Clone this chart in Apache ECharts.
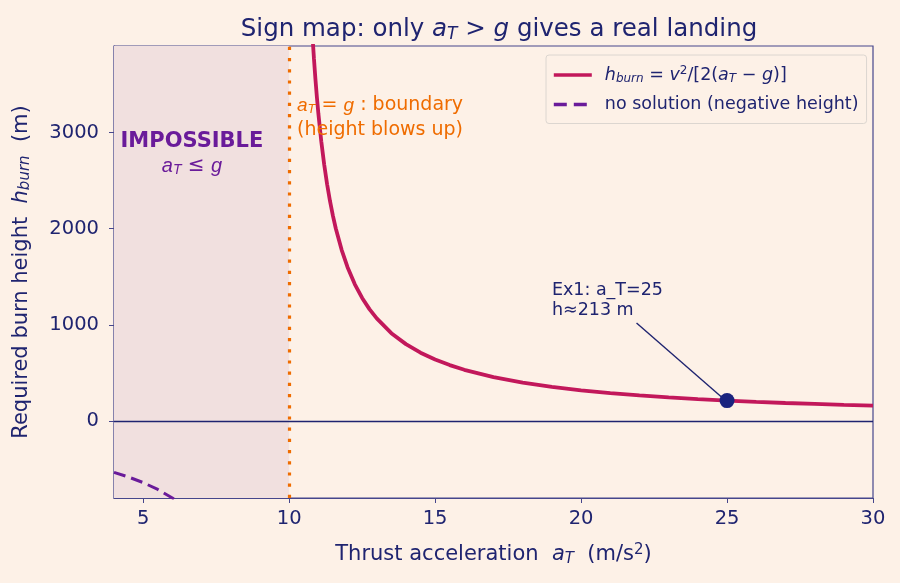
<!DOCTYPE html>
<html lang="en">
<head>
    <meta charset="UTF-8">
    <title>Sign map</title>
    <style>
        html, body { margin: 0; padding: 0; background: #fdf1e7; }
        #chart { width: 900px; height: 583px; }
    </style>
</head>
<body>
    <div id="chart"></div>
    <script src="https://cdn.jsdelivr.net/npm/echarts@6/dist/echarts.min.js"></script>
    <script>
        // values
        const burnX = [10.8, 10.85, 10.9, 10.95, 11, 11.1, 11.2, 11.3, 11.4, 11.5, 11.6, 11.8, 12, 12.25, 12.5, 12.75, 13, 13.5, 14, 14.5, 15, 15.5, 16, 17, 18, 19, 20, 21, 22, 23, 24, 25, 26, 27, 28, 29, 30]
        const burnH = [4000, 3765, 3556, 3368, 3200, 2909, 2667, 2462, 2286, 2133, 2000, 1778, 1600, 1422, 1280, 1164, 1067, 914, 800, 711, 640, 582, 533, 457, 400, 356, 320, 291, 267, 246, 229, 213, 200, 188, 178, 168, 160]
        const negX = [4, 4.5, 5, 5.5, 6, 6.25]
        const negH = [-533, -582, -640, -711, -800, -853]
        const example = [25, 213]
        const boundary = 10
        const xTicks = [5, 10, 15, 20, 25, 30]
        const yTicks = [0, 1000, 2000, 3000]

        const navy = '#1f2470'
        const spine = '#46468c'
        const crimson = '#c2185b'
        const purple = '#6a1b9a'
        const orange = '#ef6c00'
        const font = 'DejaVu Sans'

        const zip = (xs, ys) => xs.map((x, i) => [x, ys[i]])

        const chart = echarts.init(document.getElementById('chart'))

        const option = {
            backgroundColor: '#fdf1e7',
            textStyle: { fontFamily: font },
            title: {
                text: 'Sign map: only {i|a}{s|T} > {i|g} gives a real landing',
                left: 494,
                textAlign: 'center',
                top: 11,
                textStyle: {
                    color: navy, fontSize: 24.5, fontWeight: 'normal', fontFamily: font,
                    rich: {
                        i: { fontSize: 24.5, fontStyle: 'italic', color: navy, fontFamily: font },
                        s: { fontSize: 17, fontStyle: 'italic', color: navy, fontFamily: font, padding: [10, 0, 0, 0] }
                    }
                }
            },
            grid: {
                left: 114, right: 27, top: 46, bottom: 85,
                show: true, borderColor: spine, borderWidth: 1.2, backgroundColor: 'transparent'
            },
            legend: {
                orient: 'vertical',
                left: 546, top: 55,
                padding: [10, 8, 10, 6],
                itemGap: 11,
                itemWidth: 38, itemHeight: 14,
                itemStyle: { opacity: 0 },
                lineStyle: { width: 3.6 },
                backgroundColor: '#fdf1e7',
                borderColor: '#dcd6d0', borderWidth: 1, borderRadius: 3,
                data: [
                    { name: 'burn' },
                    { name: 'neg', lineStyle: { width: 3.4, type: [13, 7] } }
                ],
                formatter: function (name) {
                    if (name === 'burn') return '{i|h}{s|burn} = {i|v}{p|2}/[2({i|a}{s|T} − {i|g})]'
                    return 'no solution (negative height)'
                },
                textStyle: {
                    color: navy, fontSize: 17.5, fontFamily: font,
                    padding: [0, 0, 0, 8],
                    rich: {
                        i: { fontSize: 17.5, fontStyle: 'italic', color: navy },
                        s: { fontSize: 12, fontStyle: 'italic', color: navy, padding: [7, 0, 0, 0] },
                        p: { fontSize: 12, color: navy, padding: [0, 0, 8, 0] }
                    }
                }
            },
            xAxis: {
                type: 'value',
                min: 4, max: 30,
                name: 'Thrust acceleration  {i|a}{s|T}  (m/s{p|2})',
                nameLocation: 'middle',
                nameGap: 45,
                nameTextStyle: {
                    color: navy, fontSize: 21, fontFamily: font,
                    rich: {
                        i: { fontSize: 21, fontStyle: 'italic', color: navy },
                        s: { fontSize: 15, fontStyle: 'italic', color: navy, padding: [8, 0, 0, 0] },
                        p: { fontSize: 15, color: navy, padding: [0, 0, 9, 0] }
                    }
                },
                splitLine: { show: false },
                axisLine: { show: true, onZero: false, lineStyle: { color: spine, width: 1.2 } },
                axisTick: { show: true, customValues: xTicks, length: 5, lineStyle: { color: spine } },
                axisLabel: { customValues: xTicks, color: navy, fontSize: 19.5, margin: 11 }
            },
            yAxis: {
                type: 'value',
                min: -800, max: 3900,
                name: 'Required burn height  {i|h}{s|burn}  (m)',
                nameLocation: 'middle',
                nameRotate: 90,
                nameGap: 81,
                nameTextStyle: {
                    color: navy, fontSize: 21, fontFamily: font,
                    rich: {
                        i: { fontSize: 21, fontStyle: 'italic', color: navy },
                        s: { fontSize: 15, fontStyle: 'italic', color: navy, padding: [8, 0, 0, 0] }
                    }
                },
                splitLine: { show: false },
                axisLine: { show: true, onZero: false, lineStyle: { color: spine, width: 1.2 } },
                axisTick: { show: true, customValues: yTicks, length: 5, lineStyle: { color: spine } },
                axisLabel: { customValues: yTicks, color: navy, fontSize: 19.5, margin: 15, formatter: v => String(v) }
            },
            series: [
                {
                    name: 'burn',
                    type: 'line',
                    data: zip(burnX, burnH),
                    symbol: 'none',
                    clip: true,
                    z: 4,
                    lineStyle: { color: crimson, width: 3.8 },
                    itemStyle: { color: crimson },
                    markArea: {
                        silent: true,
                        itemStyle: { color: '#f1e0df' },
                        data: [[{ xAxis: 4 }, { xAxis: boundary }]]
                    },
                    markLine: {
                        silent: true,
                        symbol: 'none',
                        label: { show: false },
                        data: [
                            { yAxis: 0, lineStyle: { color: navy, width: 1.3, type: 'solid' } },
                            { xAxis: boundary, lineStyle: { color: orange, width: 3.2, type: [3.2, 8] } }
                        ]
                    }
                },
                {
                    name: 'neg',
                    type: 'line',
                    data: zip(negX, negH),
                    symbol: 'none',
                    clip: true,
                    z: 4,
                    lineStyle: { color: purple, width: 3, type: [12, 6] },
                    itemStyle: { color: purple }
                },
                {
                    name: 'example',
                    type: 'scatter',
                    data: [example],
                    symbolSize: 15,
                    z: 6,
                    itemStyle: { color: '#1a237e', opacity: 1 },
                    markLine: {
                        silent: true,
                        symbol: ['none', 'arrow'],
                        symbolSize: [0, 10],
                        label: { show: false },
                        lineStyle: { color: navy, width: 1.4, type: 'solid' },
                        data: [[{ coord: [21.9, 1020] }, { coord: [24.83, 245] }]]
                    }
                }
            ]
        }

        chart.setOption(option)

        const px = (x, y) => chart.convertToPixel({ gridIndex: 0 }, [x, y])
        const label = (pos, text, style) => ({
            type: 'text',
            x: pos[0], y: pos[1],
            z: 10,
            style: Object.assign({ text: text, fontFamily: font }, style)
        })

        chart.setOption({
            graphic: [
                label(px(6.67, 2906), 'IMPOSSIBLE', {
                    fill: purple, fontSize: 21, fontWeight: 'bold', align: 'center', verticalAlign: 'middle'
                }),
                label(px(6.67, 2650), '{i|a}{s|T} ≤ {i|g}', {
                    fill: purple, fontSize: 20, align: 'center', verticalAlign: 'middle',
                    rich: {
                        i: { fontSize: 20, fontStyle: 'italic', fill: purple },
                        s: { fontSize: 14, fontStyle: 'italic', fill: purple, padding: [8, 0, 0, 0] }
                    }
                }),
                label(px(10.27, 3281), '{i|a}{s|T} = {i|g} : boundary', {
                    fill: orange, fontSize: 19, align: 'left', verticalAlign: 'middle',
                    rich: {
                        i: { fontSize: 19, fontStyle: 'italic', fill: orange },
                        s: { fontSize: 13, fontStyle: 'italic', fill: orange, padding: [8, 0, 0, 0] }
                    }
                }),
                label(px(10.27, 3031), '(height blows up)', {
                    fill: orange, fontSize: 19, align: 'left', verticalAlign: 'middle'
                }),
                label(px(19.0, 1460), 'Ex1: a_T=25\nh≈213 m', {
                    fill: navy, fontSize: 17.5, align: 'left', verticalAlign: 'top', lineHeight: 20
                })
            ]
        })
    </script>
</body>
</html>
